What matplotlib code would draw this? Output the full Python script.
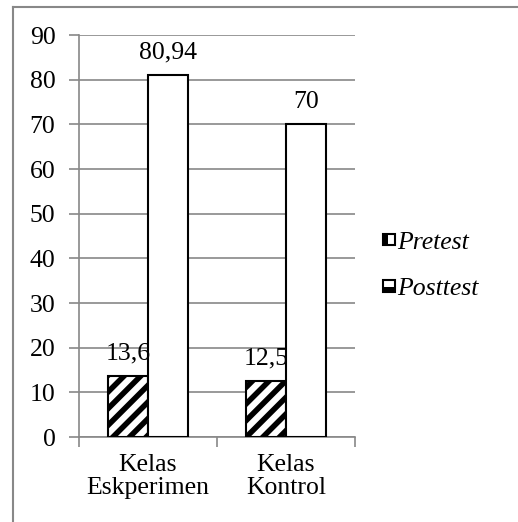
import numpy as np
import matplotlib
matplotlib.use("Agg")
import matplotlib.pyplot as plt
from matplotlib.patches import Patch, Rectangle
from matplotlib.lines import Line2D
from matplotlib.legend_handler import HandlerBase

categories = ["Kelas\nEskperimen", "Kelas\nKontrol"]
pretest = [13.6, 12.5]
posttest = [80.94, 70]
pretest_labels = ["13,6", "12,5"]
posttest_labels = ["80,94", "70"]
yticks = [0, 10, 20, 30, 40, 50, 60, 70, 80, 90]

plt.rcParams['font.family'] = ['Liberation Serif', 'DejaVu Serif']
plt.rcParams['hatch.linewidth'] = 4.0
fs = 18.5


class HalfBox(HandlerBase):
    # small square legend key, half filled black
    def __init__(self, side):
        super().__init__()
        self.side = side

    def create_artists(self, legend, orig_handle, xdescent, ydescent,
                       width, height, fontsize, trans):
        s = min(width, height)
        x0, y0 = -xdescent, -ydescent + (height - s) / 2
        outer = Rectangle((x0, y0), s, s, facecolor='white', edgecolor='black',
                          linewidth=1.5, transform=trans)
        if self.side == 'left':
            inner = Rectangle((x0, y0), s * 0.45, s, facecolor='black',
                              edgecolor='none', transform=trans)
        else:
            inner = Rectangle((x0, y0), s, s * 0.45, facecolor='black',
                              edgecolor='none', transform=trans)
        return [outer, inner]


fig = plt.figure(figsize=(5.18, 5.22), dpi=100)
ax = fig.add_axes([79 / 518, 1 - 437 / 522, 276 / 518, 402 / 522])

x = np.arange(len(categories))
w = 0.29
b1 = ax.bar(x - w / 2, pretest, w, facecolor='white', edgecolor='black',
            linewidth=1.5, hatch='//', zorder=3)
b2 = ax.bar(x + w / 2, posttest, w, facecolor='white', edgecolor='black',
            linewidth=1.5, zorder=3)

for i in range(len(categories)):
    ax.annotate(pretest_labels[i], (x[i] - w / 2, pretest[i]), xytext=(0, 12),
                textcoords='offset points', ha='center', va='baseline', fontsize=fs)
    ax.annotate(posttest_labels[i], (x[i] + w / 2, posttest[i]), xytext=(0, 12),
                textcoords='offset points', ha='center', va='baseline', fontsize=fs)

ax.set_xlim(-0.5, 1.5)
ax.set_ylim(0, 90)
ax.set_yticks(yticks)
ax.set_yticklabels([str(t) for t in yticks], fontsize=fs)
ax.set_xticks(x)
ax.set_xticklabels(categories, fontsize=fs, linespacing=1.1)
ax.set_xticks([-0.5, 0.5, 1.5], minor=True)
ax.tick_params(axis='x', which='major', length=0, pad=12)
ax.tick_params(axis='x', which='minor', length=7, color='#888888', width=1.2)
ax.tick_params(axis='y', length=7, color='#888888', width=1.2, pad=10)
ax.grid(axis='y', color='#888888', linewidth=1.2, zorder=0)
for s in ['top', 'right']:
    ax.spines[s].set_visible(False)
for s in ['left', 'bottom']:
    ax.spines[s].set_color('#888888')
    ax.spines[s].set_linewidth(1.2)

h1 = Patch(facecolor='white', edgecolor='black')
h2 = Patch(facecolor='white', edgecolor='black')
leg = fig.legend([h1, h2], ['Pretest', 'Posttest'], loc='center left',
                 bbox_to_anchor=(360 / 518, 1 - 266 / 522), frameon=False,
                 handlelength=0.45, handleheight=0.45, handletextpad=0.1,
                 labelspacing=0.95, prop={'style': 'italic', 'size': fs},
                 handler_map={h1: HalfBox('left'), h2: HalfBox('bottom')})

# outer frame (left and top only visible)
fig.add_artist(Line2D([13 / 518, 13 / 518], [0, 1 - 7 / 522], color='#888888',
                      linewidth=1.5, transform=fig.transFigure))
fig.add_artist(Line2D([13 / 518, 1], [1 - 7 / 522, 1 - 7 / 522], color='#888888',
                      linewidth=1.5, transform=fig.transFigure))

fig.savefig('out.png', dpi=100)
